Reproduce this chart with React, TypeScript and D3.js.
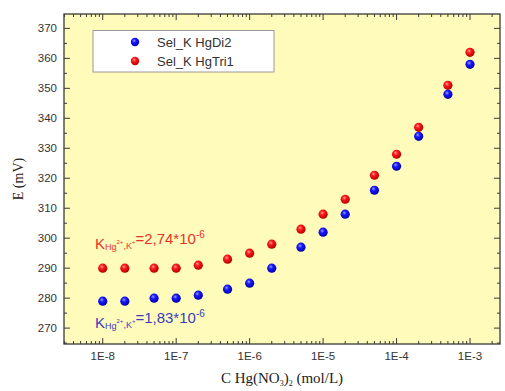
import React from "react";
import * as d3 from "d3";

const concentrations = [1e-8, 2e-8, 5e-8, 1e-7, 2e-7, 5e-7, 1e-6, 2e-6, 5e-6, 1e-5, 2e-5, 5e-5, 1e-4, 2e-4, 5e-4, 1e-3];
const hgDi2 = [279, 279, 280, 280, 281, 283, 285, 290, 297, 302, 308, 316, 324, 334, 348, 358];
const hgTri1 = [290, 290, 290, 290, 291, 293, 295, 298, 303, 308, 313, 321, 328, 337, 351, 362];
const seriesNames = ["Sel_K HgDi2", "Sel_K HgTri1"];
const xTickLabels = ["1E-8", "1E-7", "1E-6", "1E-5", "1E-4", "1E-3"];
const yTicks = [270, 280, 290, 300, 310, 320, 330, 340, 350, 360, 370];

const W = 505, H = 391;
const M = { left: 64, right: 500, top: 14, bottom: 344 };

export default function App() {
  const x = d3.scaleLog().domain([2.97e-9, 2.56e-3]).range([M.left, M.right]);
  const y = d3.scaleLinear().domain([264.7, 374.8]).range([M.bottom, M.top]);

  const majorX = xTickLabels.map((t) => +t);
  const minorX: number[] = [];
  for (let e = -9; e <= -3; e++) {
    for (let m = 2; m <= 9; m++) {
      const v = m * Math.pow(10, e);
      if (v > x.domain()[0] && v < x.domain()[1]) minorX.push(v);
    }
  }
  const minorY = d3.range(265, 375, 10);

  const axisColor = "#3a3a3a";
  const labelColor = "#333";
  const font = "Arial, 'Liberation Sans', sans-serif";
  const serif = "'Times New Roman', 'Liberation Serif', serif";

  const dots = (vals: number[], grad: string, key: string) =>
    concentrations.map((c, i) => (
      <circle key={key + i} cx={x(c)} cy={y(vals[i])} r={4.6} fill={`url(#${grad})`} />
    ));

  return (
    <div style={{ position: "absolute", left: 0, top: 0 }}>
      <svg width={W} height={H} style={{ display: "block", background: "#fff" }}>
        <defs>
          <radialGradient id="gBlue" cx="0.4" cy="0.35" r="0.65">
            <stop offset="0" stopColor="#9aa0ff" />
            <stop offset="0.35" stopColor="#1a1aff" />
            <stop offset="1" stopColor="#0000a8" />
          </radialGradient>
          <radialGradient id="gRed" cx="0.4" cy="0.35" r="0.65">
            <stop offset="0" stopColor="#ffa0a0" />
            <stop offset="0.35" stopColor="#ff1a1a" />
            <stop offset="1" stopColor="#b00000" />
          </radialGradient>
        </defs>
        <rect x={M.left} y={M.top} width={M.right - M.left} height={M.bottom - M.top} fill="#fffbbb" />

        {majorX.map((v, i) => (
          <g key={"mx" + i} stroke={axisColor} strokeWidth={1}>
            <line x1={x(v)} x2={x(v)} y1={M.bottom} y2={M.bottom - 6} />
            <line x1={x(v)} x2={x(v)} y1={M.top} y2={M.top + 6} />
          </g>
        ))}
        {minorX.map((v, i) => (
          <g key={"nx" + i} stroke={axisColor} strokeWidth={1}>
            <line x1={x(v)} x2={x(v)} y1={M.bottom} y2={M.bottom - 3} />
            <line x1={x(v)} x2={x(v)} y1={M.top} y2={M.top + 3} />
          </g>
        ))}
        {yTicks.map((v, i) => (
          <g key={"my" + i} stroke={axisColor} strokeWidth={1}>
            <line x1={M.left} x2={M.left + 6} y1={y(v)} y2={y(v)} />
            <line x1={M.right} x2={M.right - 6} y1={y(v)} y2={y(v)} />
          </g>
        ))}
        {minorY.map((v, i) => (
          <g key={"ny" + i} stroke={axisColor} strokeWidth={1}>
            <line x1={M.left} x2={M.left + 3} y1={y(v)} y2={y(v)} />
            <line x1={M.right} x2={M.right - 3} y1={y(v)} y2={y(v)} />
          </g>
        ))}
        <rect x={M.left} y={M.top} width={M.right - M.left} height={M.bottom - M.top} fill="none" stroke={axisColor} strokeWidth={1.3} />

        {majorX.map((v, i) => (
          <text key={"lx" + i} x={x(v)} y={360} textAnchor="middle" fontFamily={font} fontSize={11.5} fill={labelColor}>
            {xTickLabels[i]}
          </text>
        ))}
        {yTicks.map((v, i) => (
          <text key={"ly" + i} x={57} y={y(v) + 4} textAnchor="end" fontFamily={font} fontSize={11.5} fill={labelColor}>
            {v}
          </text>
        ))}

        <text x={20} y={179} transform="rotate(-90 20 179)" textAnchor="middle" dominantBaseline="middle" fontFamily={serif} fontSize={14} fill="#222">
          E (mV)
        </text>
        <text x={282} y={383} textAnchor="middle" fontFamily={serif} fontSize={15} fill="#222">
          C Hg(NO
          <tspan fontSize={8} dy={3}>3</tspan>
          <tspan dy={-3}>)</tspan>
          <tspan fontSize={8} dy={3}>2</tspan>
          <tspan dy={-3}> (mol/L)</tspan>
        </text>

        {dots(hgDi2, "gBlue", "b")}
        {dots(hgTri1, "gRed", "r")}

        <text x={95} y={249} fontFamily={font} fontSize={15} fill="#e8322e">
          K<tspan fontSize={9} dy={1}>Hg</tspan>
          <tspan fontSize={6} dy={-6}>2+</tspan>
          <tspan fontSize={9} dy={5}>,K</tspan>
          <tspan fontSize={6} dy={-5}>+</tspan>
          <tspan dy={0}>=2,74*10</tspan>
          <tspan fontSize={10} dy={-6}>-6</tspan>
        </text>
        <text x={95} y={328} fontFamily={font} fontSize={15} fill="#3b3bbd">
          K<tspan fontSize={9} dy={1}>Hg</tspan>
          <tspan fontSize={6} dy={-6}>2+</tspan>
          <tspan fontSize={9} dy={5}>,K</tspan>
          <tspan fontSize={6} dy={-5}>+</tspan>
          <tspan dy={0}>=1,83*10</tspan>
          <tspan fontSize={10} dy={-6}>-6</tspan>
        </text>

        <rect x={93} y={30.5} width={181} height={41.5} fill="#fff" stroke="#999" strokeWidth={1} />
        <circle cx={135} cy={42} r={4.2} fill="url(#gBlue)" />
        <circle cx={135} cy={61} r={4.2} fill="url(#gRed)" />
        <text x={157} y={46.5} fontFamily={font} fontSize={13} fill="#333">{seriesNames[0]}</text>
        <text x={157} y={65.5} fontFamily={font} fontSize={13} fill="#333">{seriesNames[1]}</text>
      </svg>
    </div>
  );
}
